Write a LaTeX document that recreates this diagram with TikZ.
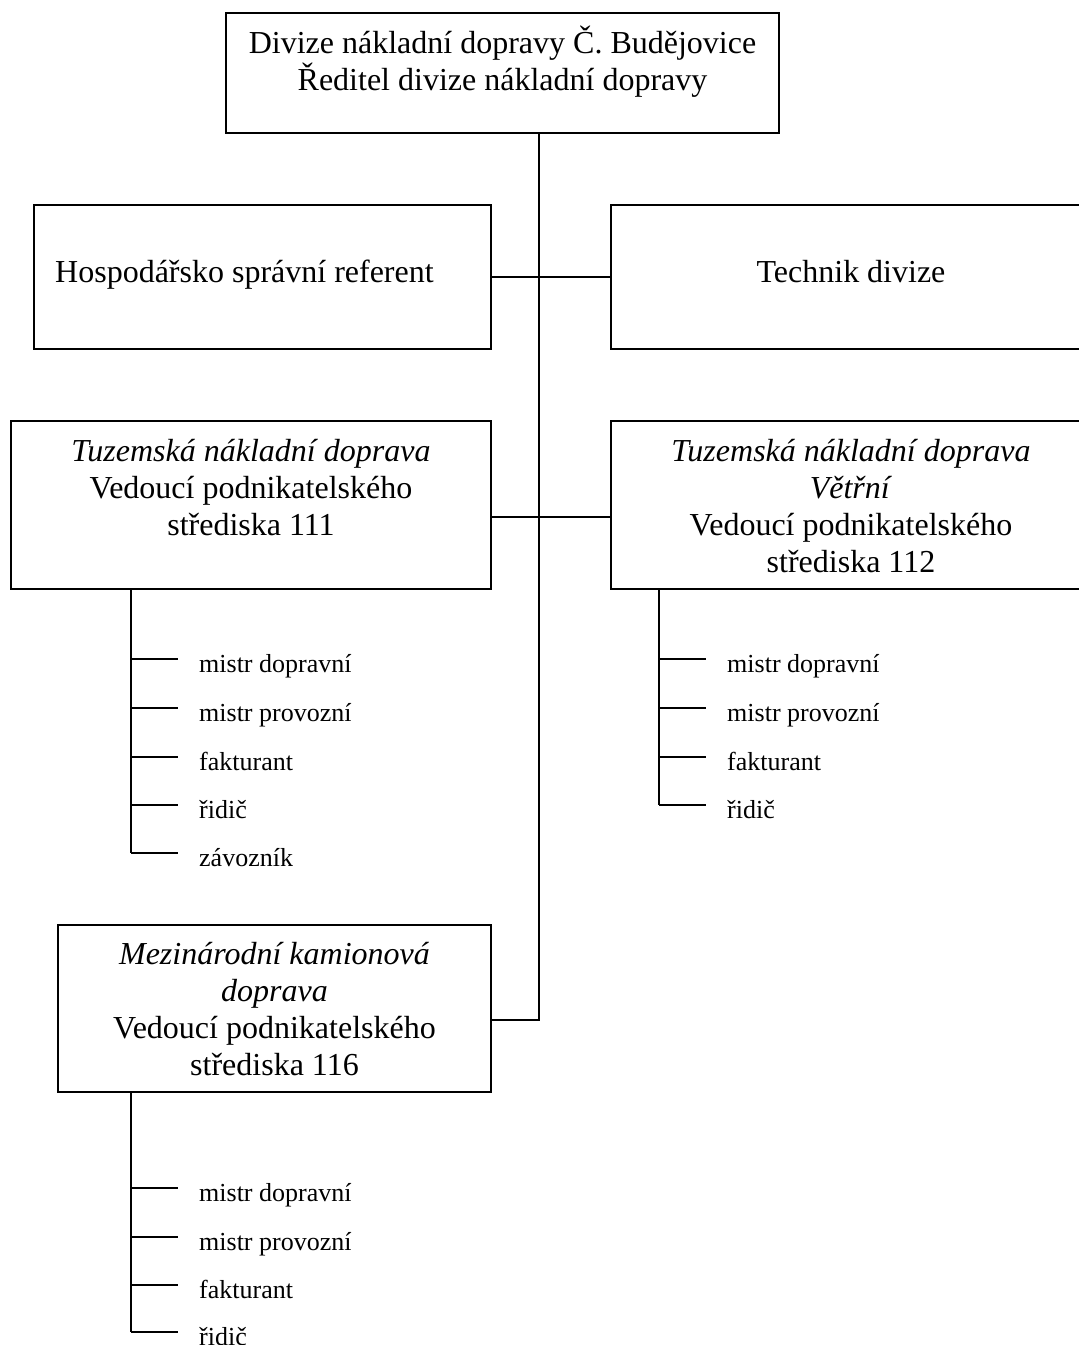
\documentclass[tikz,border=0pt]{standalone}
\usepackage{fontspec}
\setmainfont{Liberation Serif}
\begin{document}
\begin{tikzpicture}[x=1pt,y=-1pt,
  box/.style={draw, line width=1.7pt, inner sep=0pt, outer sep=0pt},
  conn/.style={line width=1.7pt},
  big/.style={font=\fontsize{32}{37}\selectfont, align=center, inner sep=0pt, anchor=base},
  item/.style={font=\fontsize{26}{30}\selectfont, inner xsep=21pt, inner ysep=0pt,
    text height=26pt, text depth=0pt, anchor=west},
]
\useasboundingbox (0,0) rectangle (1079,1345);

% boxes
\node[box, minimum width=553pt, minimum height=120pt] (top) at (502.5,73) {};
\node[box, minimum width=457pt, minimum height=144pt] (hosp) at (262.5,277) {};
\node[box, minimum width=480pt, minimum height=144pt] (tech) at (851,277) {};
\node[box, minimum width=480pt, minimum height=168pt] (t111) at (251,505) {};
\node[box, minimum width=480pt, minimum height=168pt] (t112) at (851,505) {};
\node[box, minimum width=433pt, minimum height=167pt] (m116) at (274.5,1008.5) {};

% box texts (anchor = baseline of the last line)
\node[big] (toptxt) at (502.5,90) {Divize nákladní dopravy Č. Budějovice\\Ředitel divize nákladní dopravy};
\node[big, anchor=base west] (hosptxt) at (55,282) {Hospodářsko správní referent};
\node[big] (techtxt) at (851,282) {Technik divize};
\node[big] (t111txt) at (251,535) {\textit{Tuzemská nákladní doprava}\\Vedoucí podnikatelského\\střediska 111};
\node[big] (t112txt) at (851,572) {\textit{Tuzemská nákladní doprava}\\\textit{Větřní}\\Vedoucí podnikatelského\\střediska 112};
\node[big] (m116txt) at (274.5,1075) {\textit{Mezinárodní kamionová}\\\textit{doprava}\\Vedoucí podnikatelského\\střediska 116};

% trunk and side connectors
\coordinate (trunk) at (539,0);
\coordinate (mid2) at (0,517);
\coordinate (mid3) at (0,1020);
\draw[conn] (top.south -| trunk) -- (mid3 -| trunk) -- (mid3 -| m116.east);
\draw[conn] (hosp.east) -- (tech.west);
\draw[conn] (mid2 -| t111.east) -- (mid2 -| t112.west);

% sub lists
\coordinate (va) at (131,0);
\coordinate (vb) at (659,0);
\node[item] (a1) at (178,659) {mistr dopravní};
\node[item] (a2) at (178,708) {mistr provozní};
\node[item] (a3) at (178,757) {fakturant};
\node[item] (a4) at (178,805) {řidič};
\node[item] (a5) at (178,853) {závozník};
\draw[conn] (t111.south -| va) -- (a5.west -| va);
\foreach \n in {a1,a2,a3,a4,a5} \draw[conn] (\n.west -| va) -- (\n.west);

\node[item] (b1) at (706,659) {mistr dopravní};
\node[item] (b2) at (706,708) {mistr provozní};
\node[item] (b3) at (706,757) {fakturant};
\node[item] (b4) at (706,805) {řidič};
\draw[conn] (t112.south -| vb) -- (b4.west -| vb);
\foreach \n in {b1,b2,b3,b4} \draw[conn] (\n.west -| vb) -- (\n.west);

\node[item] (c1) at (178,1188) {mistr dopravní};
\node[item] (c2) at (178,1237) {mistr provozní};
\node[item] (c3) at (178,1285) {fakturant};
\node[item] (c4) at (178,1332) {řidič};
\draw[conn] (m116.south -| va) -- (c4.west -| va);
\foreach \n in {c1,c2,c3,c4} \draw[conn] (\n.west -| va) -- (\n.west);
\end{tikzpicture}
\end{document}
